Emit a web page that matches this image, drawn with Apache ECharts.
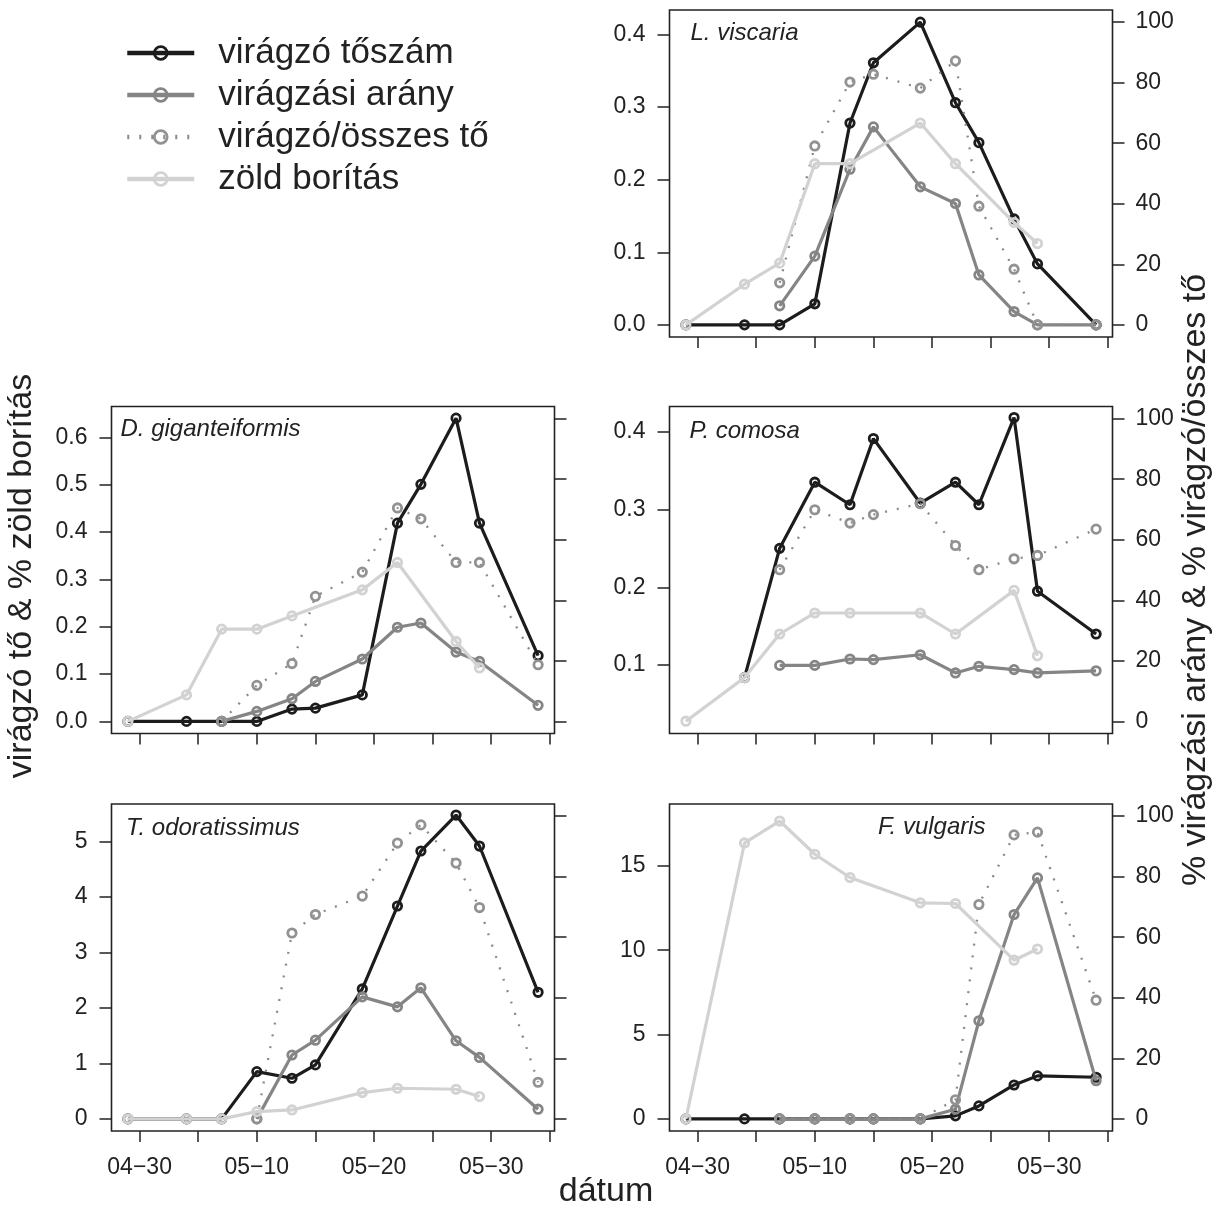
<!DOCTYPE html>
<html>
<head>
<meta charset="utf-8">
<script src="https://cdn.jsdelivr.net/npm/echarts@6/dist/echarts.min.js"></script>
<style>
  html, body { margin: 0; padding: 0; background: #ffffff; }
  #chart { width: 1224px; height: 1210px; }
</style>
</head>
<body>
<div id="chart"></div>
<script>
// ---------- DATA ----------
const dates = ["04-29","05-04","05-07","05-10","05-13","05-15","05-19","05-22","05-24","05-27","05-29","06-03"];
const xTickDates = ["04-30","05-05","05-10","05-15","05-20","05-25","05-30","06-04"];
const xLabelDates = ["04-30","05-10","05-20","05-30"];
const xLabelTexts = ["04\u221230","05\u221210","05\u221220","05\u221230"];

const seriesNames = ["virágzó tőszám","virágzási arány","virágzó/összes tő","zöld borítás"];
const panelNames = ["L. viscaria","D. giganteiformis","P. comosa","T. odoratissimus","F. vulgaris"];

// L. viscaria
const lvBlack  = [0, 0, 0, 0.029, 0.278, 0.361, 0.417, 0.306, 0.251, 0.146, 0.084, 0];
const lvMid    = [null, null, 6.3, 22.7, 51.4, 65.4, 45.6, 40.1, 16.5, 4.4, 0, 0];
const lvDotted = [null, null, 13.9, 59.1, 80.2, 82.8, 78.2, 87.2, 39.2, 18.4, 0, 0];
const lvLight  = [0, 0.056, 0.085, 0.222, 0.222, null, 0.278, 0.222, null, 0.141, 0.112, null];

// D. giganteiformis
const dgBlack  = [0, 0, 0, 0, 0.026, 0.028, 0.056, 0.419, 0.501, 0.641, 0.419, 0.139];
const dgMid    = [null, null, 0, 3.3, 7.5, 13.2, 20.6, 31.1, 32.5, 22.9, 19.8, 5.3];
const dgDotted = [null, null, 0, 11.9, 19.1, 41.3, 49.3, 70.5, 66.9, 52.5, 52.5, 18.7];
const dgLight  = [0, 0.056, 0.195, 0.195, 0.223, null, 0.278, 0.336, null, 0.169, 0.113, null];

// P. comosa
const pcBlack  = [null, 0.084, 0.25, 0.335, 0.306, 0.391, 0.308, 0.335, 0.306, 0.418, 0.195, 0.14];
const pcMid    = [null, null, 18.5, 18.5, 20.6, 20.4, 22.0, 16.0, 18.2, 17.1, 16.0, 16.7];
const pcDotted = [null, null, 50.1, 69.9, 65.5, 68.3, 71.9, 58.1, 50.1, 53.7, 54.8, 63.5];
const pcLight  = [0.028, 0.084, 0.14, 0.167, 0.167, null, 0.167, 0.14, null, 0.196, 0.112, null];

// T. odoratissimus
const toBlack  = [0, 0, 0, 0.853, 0.733, 0.974, 2.344, 3.84, 4.832, 5.481, 4.922, 2.284];
const toMid    = [null, null, null, 0, 21.1, 26.0, 40.3, 37.0, 43.3, 25.8, 20.3, 3.2];
const toDotted = [null, null, null, 0, 61.4, 67.5, 73.6, 91.1, 97.1, 84.5, 69.8, 12.1];
const toLight  = [0, 0, 0, 0.132, 0.162, null, 0.475, 0.553, null, 0.535, 0.403, null];

// F. vulgaris
const fvBlack  = [0, 0, 0, 0, 0, 0, 0, 0.18, 0.77, 2.01, 2.55, 2.47];
const fvMid    = [null, null, 0, 0, 0, 0, 0, 3.2, 32.4, 67.5, 79.6, 12.6];
const fvDotted = [null, null, 0, 0, 0, 0, 0, 6.3, 70.8, 93.8, 94.7, 39.2];
const fvLight  = [0, 16.36, 17.66, 15.69, 14.31, null, 12.81, 12.77, null, 9.41, 10.07, null];

// tick values / labels
const lvLeftTicks = [0, 0.1, 0.2, 0.3, 0.4];
const lvLeftLabels = ["0.0","0.1","0.2","0.3","0.4"];
const dgLeftTicks = [0, 0.1, 0.2, 0.3, 0.4, 0.5, 0.6];
const dgLeftLabels = ["0.0","0.1","0.2","0.3","0.4","0.5","0.6"];
const pcLeftTicks = [0.1, 0.2, 0.3, 0.4];
const pcLeftLabels = ["0.1","0.2","0.3","0.4"];
const toLeftTicks = [0, 1, 2, 3, 4, 5];
const toLeftLabels = ["0","1","2","3","4","5"];
const fvLeftTicks = [0, 5, 10, 15];
const fvLeftLabels = ["0","5","10","15"];
const rightTicks = [0, 20, 40, 60, 80, 100];
const rightLabels = ["0","20","40","60","80","100"];

// ---------- BUILD ----------
function dayNum(s) {
  const [m, d] = s.split("-").map(Number);
  return Math.round((Date.UTC(2000, m - 1, d) - Date.UTC(2000, 3, 30)) / 86400000);
}
const days = dates.map(dayNum);
const xTickVals = xTickDates.map(dayNum);
const xLabelVals = xLabelDates.map(dayNum);

const FONT = "'Liberation Sans', Arial, Helvetica, sans-serif";
const INK = "#222222";
const COLORS = ["#1c1c1c", "#858585", "#929292", "#d2d2d2"];

const panels = [
  { name: panelNames[0], data: [lvBlack, lvMid, lvDotted, lvLight], lt: lvLeftTicks, ll: lvLeftLabels,
    ymin: -0.0167, ymax: 0.4337, left: 669.5, top: 10, col: 1, row: 0, lx: 690.5, ly: 33 },
  { name: panelNames[1], data: [dgBlack, dgMid, dgDotted, dgLight], lt: dgLeftTicks, ll: dgLeftLabels,
    ymin: -0.0256, ymax: 0.6656, left: 111.5, top: 406.5, col: 0, row: 1, lx: 120.5, ly: 429 },
  { name: panelNames[2], data: [pcBlack, pcMid, pcDotted, pcLight], lt: pcLeftTicks, ll: pcLeftLabels,
    ymin: 0.0122, ymax: 0.4322, left: 669.5, top: 406.5, col: 1, row: 1, lx: 689.5, ly: 431.5 },
  { name: panelNames[3], data: [toBlack, toMid, toDotted, toLight], lt: toLeftTicks, ll: toLeftLabels,
    ymin: -0.218, ymax: 5.68, left: 111.5, top: 804, col: 0, row: 2, lx: 126, ly: 828 },
  { name: panelNames[4], data: [fvBlack, fvMid, fvDotted, fvLight], lt: fvLeftTicks, ll: fvLeftLabels,
    ymin: -0.718, ymax: 18.67, left: 669.5, top: 804, col: 1, row: 2, lx: 878, ly: 827 }
];

const W = 443, H = 327;
const grids = [], xAxes = [], yAxes = [], series = [], graphics = [];

function labelFor(ticks, labels) {
  return function (v) {
    const i = ticks.findIndex(t => Math.abs(t - v) < 1e-9);
    return i >= 0 ? labels[i] : "";
  };
}

panels.forEach((p, i) => {
  grids.push({ left: p.left, top: p.top, width: W, height: H, show: true,
    borderColor: INK, borderWidth: 1.6, backgroundColor: "transparent", containLabel: false });

  xAxes.push({ type: "value", gridIndex: i, min: -2.4, max: 35.4, position: "bottom",
    axisLine: { show: false, onZero: false }, splitLine: { show: false },
    axisTick: { show: true, length: 11, lineStyle: { color: INK, width: 1.5 }, customValues: xTickVals },
    axisLabel: { show: p.row === 2, customValues: xLabelVals, formatter: labelFor(xLabelVals, xLabelTexts),
      fontSize: 23, fontFamily: FONT, color: INK, margin: 25 } });

  yAxes.push({ type: "value", gridIndex: i, position: "left", min: p.ymin, max: p.ymax,
    axisLine: { show: false, onZero: false }, splitLine: { show: false },
    axisTick: { show: true, length: 12, lineStyle: { color: INK, width: 1.5 }, customValues: p.lt },
    axisLabel: { show: true, customValues: p.lt, formatter: labelFor(p.lt, p.ll),
      fontSize: 23, fontFamily: FONT, color: INK, margin: 24 } });

  yAxes.push({ type: "value", gridIndex: i, position: "right", min: -4, max: 104,
    axisLine: { show: false, onZero: false }, splitLine: { show: false },
    axisTick: { show: true, length: 12, lineStyle: { color: INK, width: 1.5 }, customValues: rightTicks },
    axisLabel: { show: p.col === 1, customValues: rightTicks, formatter: labelFor(rightTicks, rightLabels),
      fontSize: 23, fontFamily: FONT, color: INK, margin: 23 } });

  p.data.forEach((vals, s) => {
    const pts = [];
    vals.forEach((v, k) => { if (v !== null) pts.push([days[k], v]); });
    const dotted = s === 2;
    series.push({
      type: "line", name: seriesNames[s], xAxisIndex: i, yAxisIndex: (s === 1 || s === 2) ? 2 * i + 1 : 2 * i,
      data: pts, connectNulls: true, symbol: "circle", symbolSize: 8.4, showAllSymbol: true,
      itemStyle: { color: "rgba(255,255,255,0)", borderColor: COLORS[s], borderWidth: 2.8 },
      lineStyle: dotted ? { color: "#8a8a8a", width: 2.3, type: [2, 10], cap: "butt" }
                        : { color: COLORS[s], width: 3.2 },
      emphasis: { disabled: true }, silent: true, animation: false, z: 2 + s
    });
  });

  graphics.push({ type: "text", x: p.lx, y: p.ly,
    style: { text: p.name, font: "italic 24px " + FONT, fill: INK, textAlign: "left", textVerticalAlign: "middle" } });
});

graphics.push({ type: "text", x: 22, y: 576, rotation: Math.PI / 2,
  style: { text: "virágzó tő & % zöld borítás", font: "34px " + FONT, fill: INK, textAlign: "center", textVerticalAlign: "middle" } });
graphics.push({ type: "text", x: 1196, y: 580, rotation: Math.PI / 2,
  style: { text: "% virágzási arány & % virágzó/összes tő", font: "34px " + FONT, fill: INK, textAlign: "center", textVerticalAlign: "middle" } });
graphics.push({ type: "text", x: 606, y: 1192,
  style: { text: "dátum", font: "34px " + FONT, fill: INK, textAlign: "center", textVerticalAlign: "middle" } });

const chart = echarts.init(document.getElementById("chart"), null, { renderer: "canvas" });
chart.setOption({
  backgroundColor: "#ffffff",
  animation: false,
  textStyle: { fontFamily: FONT },
  legend: {
    show: true, orient: "vertical", left: 120, top: 27, itemWidth: 67, itemHeight: 16, itemGap: 0,
    selectedMode: false, data: seriesNames,
    itemStyle: { borderWidth: 2.8 },
    lineStyle: { width: 4.5 },
    textStyle: { fontSize: 35, fontFamily: FONT, color: INK, lineHeight: 42, padding: [0, 0, 0, 19] }
  },
  grid: grids, xAxis: xAxes, yAxis: yAxes, series: series, graphic: graphics
});
</script>
</body>
</html>
